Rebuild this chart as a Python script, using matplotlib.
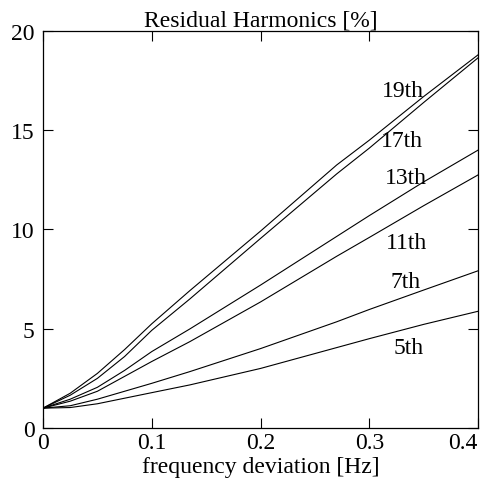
import matplotlib
matplotlib.use("Agg")
import matplotlib.pyplot as plt
from matplotlib.transforms import ScaledTranslation

plt.rcParams['font.family'] = ['Liberation Serif', 'DejaVu Serif']

# frequency deviation [Hz]
freq = [0.0, 0.025, 0.05, 0.075, 0.1, 0.135, 0.2, 0.27, 0.3, 0.35, 0.4]

# residual harmonic content [%] per harmonic order
h19 = [1.0, 1.75, 2.75, 3.95, 5.25, 6.92, 9.92, 13.25, 14.50, 16.70, 18.80]
h17 = [1.0, 1.65, 2.50, 3.60, 4.92, 6.50, 9.55, 12.80, 14.10, 16.40, 18.65]
h13 = [1.0, 1.45, 2.05, 2.90, 3.85, 4.99, 7.20, 9.65, 10.70, 12.40, 14.00]
h11 = [1.0, 1.35, 1.85, 2.60, 3.35, 4.35, 6.35, 8.65, 9.60, 11.20, 12.75]
h7 = [1.0, 1.12, 1.45, 1.85, 2.25, 2.84, 4.00, 5.35, 5.97, 6.95, 7.92]
h5 = [1.0, 1.03, 1.22, 1.50, 1.78, 2.17, 3.00, 4.05, 4.50, 5.22, 5.88]

series = [h19, h17, h13, h11, h7, h5]
labels = ["19th", "17th", "13th", "11th", "7th", "5th"]
label_x = [0.331, 0.330, 0.334, 0.334, 0.333, 0.336]
label_y = [17.0, 14.46, 12.6, 9.37, 7.4, 4.03]

xticks = [0, 0.1, 0.2, 0.3, 0.4]
xticklabels = ["0", "0.1", "0.2", "0.3", "0.4"]
yticks = [0, 5, 10, 15, 20]

fig = plt.figure(figsize=(4.8, 4.85), dpi=100)
ax = fig.add_axes([0.0896, 0.1155, 0.9064, 0.8185])

for ys in series:
    ax.plot(freq, ys, color="black", lw=0.8)

for lab, lx, ly in zip(labels, label_x, label_y):
    ax.text(lx, ly, lab, fontsize=17, ha="center", va="center")

ax.set_xlim(0, 0.4)
ax.set_ylim(0, 20)
ax.set_xticks(xticks)
ax.set_xticklabels(xticklabels)
ax.set_yticks(yticks)
ax.tick_params(direction="in", length=7, width=0.8, top=True, right=True,
               labelsize=17)
ax.tick_params(axis="y", pad=6)
ax.tick_params(axis="x", pad=3)
for s in ax.spines.values():
    s.set_linewidth(0.9)

# keep the last x tick label inside the figure
last = ax.get_xticklabels()[-1]
last.set_transform(last.get_transform() + ScaledTranslation(-15 / 100, 0, fig.dpi_scale_trans))

ax.set_title("Residual Harmonics [%]", fontsize=17, pad=4)
ax.set_xlabel("frequency deviation [Hz]", fontsize=17, labelpad=2)

fig.savefig("out.png", dpi=100)
